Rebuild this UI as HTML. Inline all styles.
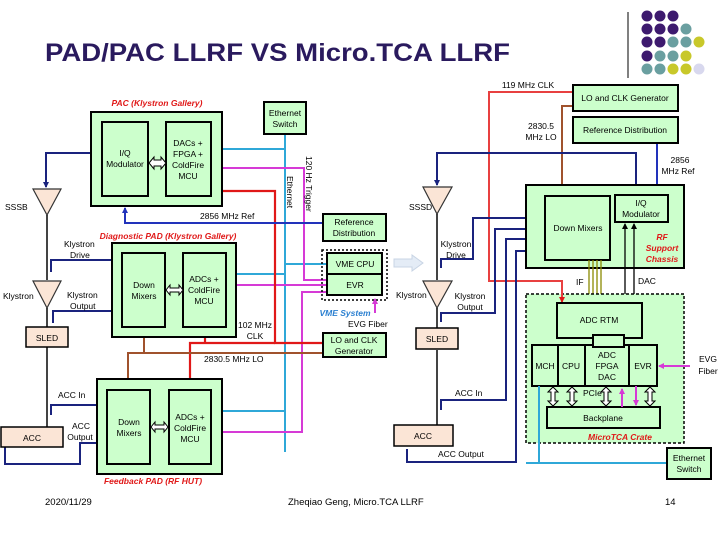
<!DOCTYPE html>
<html><head><meta charset="utf-8"><style>
html,body{margin:0;padding:0;background:#fff;}
svg{display:block;font-family:"Liberation Sans",Arial,sans-serif;}
</style></head><body>
<svg width="720" height="540" viewBox="0 0 720 540" xmlns="http://www.w3.org/2000/svg">
<defs>
<marker id="aN" markerWidth="6" markerHeight="6" refX="5" refY="3" orient="auto" markerUnits="userSpaceOnUse"><path d="M0,0 L6,3 L0,6z" fill="#1a237e"/></marker>
<marker id="aB" markerWidth="6" markerHeight="6" refX="5" refY="3" orient="auto" markerUnits="userSpaceOnUse"><path d="M0,0 L6,3 L0,6z" fill="#2233bb"/></marker>
<marker id="aR" markerWidth="6" markerHeight="6" refX="5" refY="3" orient="auto" markerUnits="userSpaceOnUse"><path d="M0,0 L6,3 L0,6z" fill="#e01818"/></marker>
<marker id="aBr" markerWidth="6" markerHeight="6" refX="5" refY="3" orient="auto" markerUnits="userSpaceOnUse"><path d="M0,0 L6,3 L0,6z" fill="#a0522d"/></marker>
<marker id="aM" markerWidth="6" markerHeight="6" refX="5" refY="3" orient="auto" markerUnits="userSpaceOnUse"><path d="M0,0 L6,3 L0,6z" fill="#d63ad6"/></marker>
<marker id="aO" markerWidth="5" markerHeight="5" refX="4" refY="2.5" orient="auto" markerUnits="userSpaceOnUse"><path d="M0,0 L5,2.5 L0,5z" fill="#8a8a00"/></marker>
<marker id="aK" markerWidth="6" markerHeight="6" refX="5" refY="3" orient="auto" markerUnits="userSpaceOnUse"><path d="M0,0 L6,3 L0,6z" fill="#000"/></marker>
</defs>

<!-- title -->
<text x="45" y="61" font-size="25" font-weight="bold" fill="#2a1a5e" textLength="465" lengthAdjust="spacingAndGlyphs">PAD/PAC LLRF VS Micro.TCA LLRF</text>
<line x1="628" y1="12" x2="628" y2="78" stroke="#000" stroke-width="1"/>
<g>
<circle cx="647" cy="16" r="5.5" fill="#3d1a6e"/><circle cx="660" cy="16" r="5.5" fill="#3d1a6e"/><circle cx="673" cy="16" r="5.5" fill="#3d1a6e"/>
<circle cx="647" cy="29" r="5.5" fill="#3d1a6e"/><circle cx="660" cy="29" r="5.5" fill="#3d1a6e"/><circle cx="673" cy="29" r="5.5" fill="#3d1a6e"/><circle cx="686" cy="29" r="5.5" fill="#6a9fa0"/>
<circle cx="647" cy="42" r="5.5" fill="#3d1a6e"/><circle cx="660" cy="42" r="5.5" fill="#3d1a6e"/><circle cx="673" cy="42" r="5.5" fill="#6a9fa0"/><circle cx="686" cy="42" r="5.5" fill="#6a9fa0"/><circle cx="699" cy="42" r="5.5" fill="#c8c82a"/>
<circle cx="647" cy="56" r="5.5" fill="#3d1a6e"/><circle cx="660" cy="56" r="5.5" fill="#6a9fa0"/><circle cx="673" cy="56" r="5.5" fill="#6a9fa0"/><circle cx="686" cy="56" r="5.5" fill="#c8c82a"/>
<circle cx="647" cy="69" r="5.5" fill="#6a9fa0"/><circle cx="660" cy="69" r="5.5" fill="#6a9fa0"/><circle cx="673" cy="69" r="5.5" fill="#c8c82a"/><circle cx="686" cy="69" r="5.5" fill="#c8c82a"/><circle cx="699" cy="69" r="5.5" fill="#d8d8ee"/>
</g>

<g font-size="8.5" fill="#000">
<g stroke="#2fa8d8" stroke-width="2" fill="none">
<line x1="285" y1="134" x2="285" y2="452"/>
<line x1="211" y1="149" x2="285" y2="149"/>
<line x1="285" y1="264" x2="327" y2="264"/>
<line x1="226" y1="274" x2="285" y2="274"/>
<line x1="211" y1="411" x2="285" y2="411"/>
</g>
<g stroke="#d63ad6" stroke-width="2" fill="none">
<polyline points="327,280 304,280 304,168 213,168" marker-end="url(#aM)"/>
<line x1="327" y1="285" x2="228" y2="285" marker-end="url(#aM)"/>
<polyline points="327,292 302,292 302,432 213,432" marker-end="url(#aM)"/>
</g>
<g stroke="#e01818" stroke-width="2.2" fill="none">
<polyline points="323,343 275,343 275,191 213,191" marker-end="url(#aR)"/>
<polyline points="275,343 190,343 190,387" marker-end="url(#aR)"/>
<line x1="205" y1="343" x2="205" y2="329" marker-end="url(#aR)"/>
</g>
<g stroke="#a0522d" stroke-width="2" fill="none">
<polyline points="323,353 128,353 128,388" marker-end="url(#aBr)"/>
<line x1="144" y1="353" x2="144" y2="329" marker-end="url(#aBr)"/>
</g>
<polyline points="323,223 125,223 125,208" stroke="#2233bb" stroke-width="2" fill="none" marker-end="url(#aB)"/>
<g stroke="#1a237e" stroke-width="2" fill="none">
<polyline points="102,153 46,153 46,187" marker-end="url(#aN)"/>
<polyline points="51,272 51,260 121,260" marker-end="url(#aN)"/>
<polyline points="53,323 53,311 121,311" marker-end="url(#aN)"/>
<polyline points="51,415 51,405 106,405" marker-end="url(#aN)"/>
<polyline points="5,446 5,464 80,464 80,443 106,443" marker-end="url(#aN)"/>
</g>
<g stroke="#444" stroke-width="2"><line x1="47" y1="215" x2="47" y2="280"/><line x1="47" y1="308" x2="47" y2="327"/><line x1="47" y1="347" x2="47" y2="427"/></g>

<text x="157" y="106" font-weight="bold" font-style="italic" fill="#e01818" text-anchor="middle">PAC (Klystron Gallery)</text>
<rect x="91" y="112" width="131" height="94" fill="#ccffcc" stroke="#000" stroke-width="2"/>
<rect x="102" y="122" width="46" height="74" fill="#ccffcc" stroke="#000" stroke-width="2"/>
<rect x="166" y="122" width="45" height="74" fill="#ccffcc" stroke="#000" stroke-width="2"/>
<text x="125" y="156" text-anchor="middle">I/Q</text><text x="125" y="167" text-anchor="middle">Modulator</text>
<text x="188" y="146" text-anchor="middle">DACs +</text><text x="188" y="157" text-anchor="middle">FPGA +</text><text x="188" y="168" text-anchor="middle">ColdFire</text><text x="188" y="179" text-anchor="middle">MCU</text>
<path d="M149,163 l5,-6 v3 h7 v-3 l5,6 l-5,6 v-3 h-7 v3z" fill="#fff" stroke="#000" stroke-width="1"/>

<rect x="264" y="102" width="42" height="32" fill="#ccffcc" stroke="#000" stroke-width="2"/>
<text x="285" y="116" text-anchor="middle">Ethernet</text><text x="285" y="127" text-anchor="middle">Switch</text>
<text transform="translate(306,156) rotate(90)" font-size="8.5">120 Hz Trigger</text>
<text transform="translate(287,176) rotate(90)" font-size="8.5">Ethernet</text>
<text x="200" y="219">2856 MHz Ref</text>

<path d="M33,189 L61,189 L47,215z" fill="#fbe5d6" stroke="#333" stroke-width="1.2"/>
<text x="5" y="210">SSSB</text>
<path d="M33,281 L61,281 L47,308z" fill="#fbe5d6" stroke="#333" stroke-width="1.2"/>
<text x="3" y="299">Klystron</text>
<text x="64" y="247">Klystron</text><text x="70" y="258">Drive</text>
<text x="67" y="298">Klystron</text><text x="70" y="309">Output</text>
<rect x="26" y="327" width="42" height="20" fill="#fbe5d6" stroke="#000" stroke-width="1.5"/>
<text x="47" y="341" text-anchor="middle">SLED</text>

<text x="168" y="239" font-weight="bold" font-style="italic" fill="#e01818" text-anchor="middle">Diagnostic PAD (Klystron Gallery)</text>
<rect x="112" y="243" width="124" height="94" fill="#ccffcc" stroke="#000" stroke-width="2"/>
<rect x="122" y="253" width="43" height="74" fill="#ccffcc" stroke="#000" stroke-width="2"/>
<rect x="183" y="253" width="43" height="74" fill="#ccffcc" stroke="#000" stroke-width="2"/>
<text x="144" y="288" text-anchor="middle">Down</text><text x="144" y="299" text-anchor="middle">Mixers</text>
<text x="204" y="282" text-anchor="middle">ADCs +</text><text x="204" y="293" text-anchor="middle">ColdFire</text><text x="204" y="304" text-anchor="middle">MCU</text>
<path d="M166,290 l4,-5 v3 h9 v-3 l4,5 l-4,5 v-3 h-9 v3z" fill="#fff" stroke="#000" stroke-width="1"/>
<text x="255" y="328" text-anchor="middle">102 MHz</text><text x="255" y="339" text-anchor="middle">CLK</text>
<text x="204" y="362">2830.5 MHz LO</text>

<rect x="97" y="379" width="125" height="95" fill="#ccffcc" stroke="#000" stroke-width="2"/>
<rect x="107" y="390" width="43" height="74" fill="#ccffcc" stroke="#000" stroke-width="2"/>
<rect x="169" y="390" width="42" height="74" fill="#ccffcc" stroke="#000" stroke-width="2"/>
<text x="129" y="425" text-anchor="middle">Down</text><text x="129" y="436" text-anchor="middle">Mixers</text>
<text x="190" y="420" text-anchor="middle">ADCs +</text><text x="190" y="431" text-anchor="middle">ColdFire</text><text x="190" y="442" text-anchor="middle">MCU</text>
<path d="M151,427 l4,-5 v3 h9 v-3 l4,5 l-4,5 v-3 h-9 v3z" fill="#fff" stroke="#000" stroke-width="1"/>
<text x="153" y="484" font-weight="bold" font-style="italic" fill="#e01818" text-anchor="middle">Feedback PAD (RF HUT)</text>
<rect x="1" y="427" width="62" height="20" fill="#fbe5d6" stroke="#000" stroke-width="1.5"/>
<text x="32" y="441" text-anchor="middle">ACC</text>
<text x="58" y="398">ACC In</text>
<text x="81" y="429" text-anchor="middle">ACC</text><text x="80" y="440" text-anchor="middle">Output</text>

<rect x="322" y="250" width="65" height="50" fill="none" stroke="#000" stroke-width="1.5" stroke-dasharray="2,2"/>
<rect x="327" y="253" width="55" height="21" fill="#ccffcc" stroke="#000" stroke-width="2"/>
<rect x="327" y="274" width="55" height="21" fill="#ccffcc" stroke="#000" stroke-width="2"/>
<text x="355" y="267" text-anchor="middle">VME CPU</text><text x="355" y="288" text-anchor="middle">EVR</text>
<text x="345" y="316" font-weight="bold" font-style="italic" fill="#2a7fd0" text-anchor="middle">VME System</text>
<line x1="375" y1="313" x2="375" y2="299" stroke="#d63ad6" stroke-width="2" marker-end="url(#aM)"/>
<text x="348" y="327">EVG Fiber</text>
<rect x="323" y="214" width="63" height="27" fill="#ccffcc" stroke="#000" stroke-width="2"/>
<text x="354" y="225" text-anchor="middle">Reference</text><text x="354" y="236" text-anchor="middle">Distribution</text>
<rect x="323" y="333" width="63" height="24" fill="#ccffcc" stroke="#000" stroke-width="2"/>
<text x="354" y="343" text-anchor="middle">LO and CLK</text><text x="354" y="354" text-anchor="middle">Generator</text>

<path d="M394,259 h18 v-4 l11,8 l-11,8 v-4 h-18z" fill="#e4ecf6" stroke="#c8d4e4" stroke-width="1"/>

<g stroke="#e84040" stroke-width="2" fill="none">
<polyline points="573,92 489,92 489,281 562,281 562,301" marker-end="url(#aR)"/>
</g>
<polyline points="573,106 562,106 562,193" stroke="#a0522d" stroke-width="2" fill="none" marker-end="url(#aBr)"/>
<polyline points="636,195 636,153 437,153 437,185" stroke="#1a237e" stroke-width="2" fill="none" marker-end="url(#aN)"/>
<line x1="657" y1="143" x2="657" y2="193" stroke="#2233bb" stroke-width="2" marker-end="url(#aB)"/>
<g stroke="#1a237e" stroke-width="2" fill="none">
<polyline points="441,268 441,259 473,259 473,218 543,218" marker-end="url(#aN)"/>
<polyline points="441,322 441,313 495,313 495,229 543,229" marker-end="url(#aN)"/>
<polyline points="441,410 441,400 506,400 506,239 543,239" marker-end="url(#aN)"/>
<polyline points="407,449 407,462 516,462 516,251 543,251" marker-end="url(#aN)"/>
</g>
<g stroke="#444" stroke-width="2"><line x1="437" y1="214" x2="437" y2="280"/><line x1="437" y1="308" x2="437" y2="328"/><line x1="437" y1="350" x2="437" y2="425"/></g>

<text x="528" y="88" text-anchor="middle">119 MHz CLK</text>
<rect x="573" y="85" width="105" height="26" fill="#ccffcc" stroke="#000" stroke-width="2"/>
<text x="625" y="101" text-anchor="middle">LO and CLK Generator</text>
<rect x="573" y="117" width="105" height="26" fill="#ccffcc" stroke="#000" stroke-width="2"/>
<text x="625" y="133" text-anchor="middle">Reference Distribution</text>
<text x="541" y="129" text-anchor="middle">2830.5</text><text x="541" y="140" text-anchor="middle">MHz LO</text>
<text x="680" y="163" text-anchor="middle">2856</text><text x="678" y="174" text-anchor="middle">MHz Ref</text>

<rect x="526" y="185" width="158" height="83" fill="#ccffcc" stroke="#000" stroke-width="2"/>
<rect x="545" y="196" width="65" height="64" fill="#ccffcc" stroke="#000" stroke-width="2"/>
<text x="578" y="231" text-anchor="middle">Down Mixers</text>
<rect x="615" y="195" width="53" height="27" fill="#ccffcc" stroke="#000" stroke-width="2"/>
<text x="641" y="206" text-anchor="middle">I/Q</text><text x="641" y="217" text-anchor="middle">Modulator</text>
<g font-weight="bold" font-style="italic" fill="#e01818" text-anchor="middle"><text x="662" y="240">RF</text><text x="662" y="251">Support</text><text x="662" y="262">Chassis</text></g>

<path d="M423,187 L452,187 L437,214z" fill="#fbe5d6" stroke="#333" stroke-width="1.2"/>
<text x="409" y="210">SSSD</text>
<path d="M423,281 L452,281 L437,308z" fill="#fbe5d6" stroke="#333" stroke-width="1.2"/>
<text x="396" y="298">Klystron</text>
<text x="456" y="247" text-anchor="middle">Klystron</text><text x="456" y="258" text-anchor="middle">Drive</text>
<text x="470" y="299" text-anchor="middle">Klystron</text><text x="470" y="310" text-anchor="middle">Output</text>
<rect x="416" y="328" width="42" height="21" fill="#fbe5d6" stroke="#000" stroke-width="1.5"/>
<text x="437" y="342" text-anchor="middle">SLED</text>
<text x="455" y="396">ACC In</text>
<rect x="394" y="425" width="59" height="21" fill="#fbe5d6" stroke="#000" stroke-width="1.5"/>
<text x="423" y="439" text-anchor="middle">ACC</text>
<text x="438" y="457">ACC Output</text>

<g stroke="#8a8a00" stroke-width="1.3"><line x1="589" y1="260" x2="589" y2="302" marker-end="url(#aO)"/><line x1="593" y1="260" x2="593" y2="302" marker-end="url(#aO)"/><line x1="597" y1="260" x2="597" y2="302" marker-end="url(#aO)"/><line x1="601" y1="260" x2="601" y2="302" marker-end="url(#aO)"/></g>
<text x="576" y="285">IF</text>
<g stroke="#000" stroke-width="1.3"><line x1="625" y1="303" x2="625" y2="224" marker-end="url(#aK)"/><line x1="634" y1="303" x2="634" y2="224" marker-end="url(#aK)"/></g>
<text x="638" y="284">DAC</text>

<rect x="526" y="294" width="158" height="149" fill="#ccffcc" stroke="#000" stroke-width="1.5" stroke-dasharray="3,2"/>
<line x1="562" y1="281" x2="562" y2="302" stroke="#e84040" stroke-width="2" marker-end="url(#aR)"/>
<rect x="557" y="303" width="85" height="35" fill="#ccffcc" stroke="#000" stroke-width="2"/>
<text x="599" y="323" text-anchor="middle">ADC RTM</text>
<rect x="532" y="345" width="26" height="41" fill="#ccffcc" stroke="#000" stroke-width="2"/>
<rect x="558" y="345" width="27" height="41" fill="#ccffcc" stroke="#000" stroke-width="2"/>
<rect x="585" y="345" width="44" height="41" fill="#ccffcc" stroke="#000" stroke-width="2"/>
<rect x="629" y="345" width="28" height="41" fill="#ccffcc" stroke="#000" stroke-width="2"/>
<rect x="593" y="335" width="31" height="12" fill="#ccffcc" stroke="#000" stroke-width="2"/>
<text x="545" y="369" text-anchor="middle">MCH</text><text x="571" y="369" text-anchor="middle">CPU</text>
<text x="607" y="358" text-anchor="middle">ADC</text><text x="607" y="369" text-anchor="middle">FPGA</text><text x="607" y="380" text-anchor="middle">DAC</text>
<text x="643" y="369" text-anchor="middle">EVR</text>
<rect x="547" y="407" width="113" height="21" fill="#ccffcc" stroke="#000" stroke-width="2"/>
<text x="603" y="421" text-anchor="middle">Backplane</text>
<g fill="#fff" stroke="#000" stroke-width="1">
<path d="M553,387 l5,5 h-3 v9 h3 l-5,5 l-5,-5 h3 v-9 h-3z"/>
<path d="M572,387 l5,5 h-3 v9 h3 l-5,5 l-5,-5 h3 v-9 h-3z"/>
<path d="M606,387 l5,5 h-3 v9 h3 l-5,5 l-5,-5 h3 v-9 h-3z"/>
<path d="M650,387 l5,5 h-3 v9 h3 l-5,5 l-5,-5 h3 v-9 h-3z"/>
</g>
<text x="583" y="396">PCIe</text>
<g stroke="#d63ad6" stroke-width="2"><line x1="622" y1="407" x2="622" y2="389" marker-end="url(#aM)"/><line x1="636" y1="386" x2="636" y2="405" marker-end="url(#aM)"/><line x1="690" y1="366" x2="659" y2="366" marker-end="url(#aM)"/></g>
<text x="620" y="440" font-weight="bold" font-style="italic" fill="#e01818" text-anchor="middle">MicroTCA Crate</text>
<text x="708" y="362" text-anchor="middle">EVG</text><text x="708" y="374" text-anchor="middle">Fiber</text>

<g stroke="#2fa8d8" stroke-width="2"><line x1="539" y1="386" x2="539" y2="463"/><line x1="526" y1="463" x2="667" y2="463"/></g>
<rect x="667" y="448" width="44" height="31" fill="#ccffcc" stroke="#000" stroke-width="2"/>
<text x="689" y="461" text-anchor="middle">Ethernet</text><text x="689" y="472" text-anchor="middle">Switch</text>
</g>

<g font-size="9.5" fill="#000">
<text x="45" y="505">2020/11/29</text>
<text x="288" y="505">Zheqiao Geng, Micro.TCA LLRF</text>
<text x="665" y="505">14</text>
</g>
</svg>
</body></html>
